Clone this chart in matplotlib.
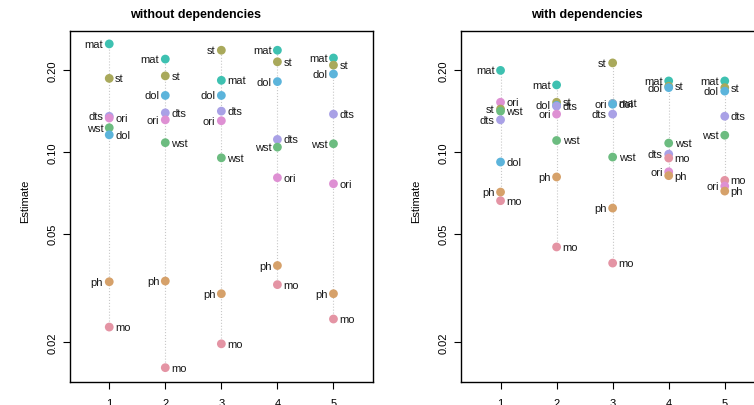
import numpy as np
import matplotlib
matplotlib.use("Agg")
import matplotlib.pyplot as plt

plt.rcParams['font.family'] = ['Liberation Sans', 'DejaVu Sans']

groups = [1, 2, 3, 4, 5]
names = ['mat', 'st', 'dol', 'dts', 'ori', 'wst', 'ph', 'mo']
colors = ['#3EC1B1', '#A9A95B', '#5CB4DB', '#A9A1E6', '#DE90D3', '#6CBC80', '#D6A16A', '#E494A4']

# rows follow names, columns follow groups
without_dep = [
    [0.249, 0.219, 0.183, 0.236, 0.221],    # mat
    [0.186, 0.190, 0.236, 0.214, 0.208],    # st
    [0.1154, 0.161, 0.161, 0.181, 0.193],   # dol
    [0.135, 0.139, 0.141, 0.111, 0.1375],   # dts
    [0.133, 0.131, 0.130, 0.0803, 0.0763],  # ori
    [0.1225, 0.108, 0.095, 0.104, 0.107],   # wst
    [0.0333, 0.0335, 0.0301, 0.0382, 0.0301],  # ph
    [0.0227, 0.0161, 0.0197, 0.0325, 0.0243],  # mo
]
with_dep = [
    [0.199, 0.176, 0.1505, 0.182, 0.182],   # mat
    [0.1435, 0.152, 0.212, 0.174, 0.172],   # st
    [0.0917, 0.148, 0.1495, 0.172, 0.167],  # dol
    [0.131, 0.147, 0.1375, 0.098, 0.135],   # dts
    [0.152, 0.1375, 0.150, 0.0844, 0.0748], # ori
    [0.141, 0.110, 0.0956, 0.1076, 0.115],  # wst
    [0.0711, 0.0808, 0.0621, 0.0817, 0.0717],  # ph
    [0.0661, 0.0447, 0.039, 0.0948, 0.0785],   # mo
]
titles = ['without dependencies', 'with dependencies']
yticks = [0.02, 0.05, 0.10, 0.20]
ytick_labels = ['0.02', '0.05', '0.10', '0.20']

W, H = 754, 406
fig = plt.figure(figsize=(W / 100, H / 100), dpi=100)

def px_rect(left, top, right, bottom):
    return [left / W, 1 - bottom / H, (right - left) / W, (bottom - top) / H]

axes = [fig.add_axes(px_rect(70, 32.3, 372.7, 382.7)),
        fig.add_axes(px_rect(461.3, 32.3, 764.0, 382.7))]
title_x = [195.7, 586.7]

for ax, data, title, tx in zip(axes, [without_dep, with_dep], titles, title_x):
    vals = np.array(data)
    ax.set_yscale('log')
    ax.set_xlim(0.3, 5.7)
    ax.set_ylim(0.0143, 0.277)

    for j, g in enumerate(groups):
        col = vals[:, j]
        # faint dotted guide from top to bottom point
        ax.plot([g, g], [col.min(), col.max()], ls=':', lw=0.8, color='#c8c8c8', zorder=1)
        order = np.argsort(-col)
        for rank, i in enumerate(order):
            ax.scatter(g, col[i], s=40, color=colors[i], edgecolors='none', zorder=3)
            if rank % 2 == 0:
                ax.annotate(names[i], (g, col[i]), xytext=(-4.3, 0), textcoords='offset points',
                            ha='right', va='center', fontsize=8, color='#1a1a1a')
            else:
                ax.annotate(names[i], (g, col[i]), xytext=(4.3, 0), textcoords='offset points',
                            ha='left', va='center', fontsize=8, color='#1a1a1a')

    ax.set_xticks(groups)
    ax.set_xticklabels([str(g) for g in groups])
    ax.set_yticks(yticks)
    ax.set_yticklabels(ytick_labels, rotation=90, va='center')
    ax.minorticks_off()
    ax.tick_params(labelsize=8, length=5, width=0.8, pad=4, colors='black')
    ax.tick_params(axis='x', pad=7)
    for sp in ax.spines.values():
        sp.set_linewidth(1.0)
        sp.set_color('black')
    ax.set_ylabel('Estimate', fontsize=8)
    ax.yaxis.set_label_coords(-0.132, 0.518)

    fig.text(tx / W, 1 - 15 / H, title, ha='center', va='center',
             fontsize=9, fontweight='bold')

fig.savefig('out.png', dpi=100)
